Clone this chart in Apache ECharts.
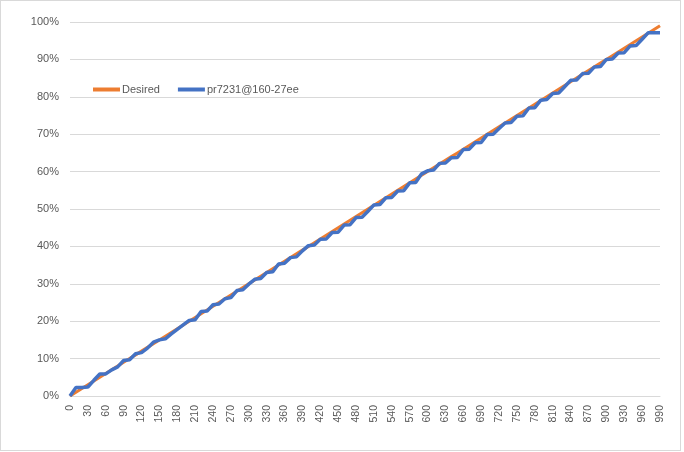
<!DOCTYPE html>
<html><head><meta charset="utf-8">
<script src="https://cdn.jsdelivr.net/npm/echarts@6/dist/echarts.min.js"></script>
<style>
html,body{margin:0;padding:0;background:#fff;}
#c{width:681px;height:451px;border:1px solid #d9d9d9;box-sizing:border-box;}
</style></head>
<body><div id="c"></div>
<script>
const categories = [0,10,20,30,40,50,60,70,80,90,100,110,120,130,140,150,160,170,180,190,
200,210,220,230,240,250,260,270,280,290,300,310,320,330,340,350,360,370,380,390,
400,410,420,430,440,450,460,470,480,490,500,510,520,530,540,550,560,570,580,590,
600,610,620,630,640,650,660,670,680,690,700,710,720,730,740,750,760,770,780,790,
800,810,820,830,840,850,860,870,880,890,900,910,920,930,940,950,960,970,980,990];
const desired = [0,1,2,3,4,5,6,7,8,9,10,11,12,13,14,15,16,17,18,19,
20,21,22,23,24,25,26,27,28,29,30,31,32,33,34,35,36,37,38,39,
40,41,42,43,44,45,46,47,48,49,50,51,52,53,54,55,56,57,58,59,
60,61,62,63,64,65,66,67,68,69,70,71,72,73,74,75,76,77,78,79,
80,81,82,83,84,85,86,87,88,89,90,91,92,93,94,95,96,97,98,99];
const actual = [0,2.3,2.3,2.4,4.2,5.9,5.9,7.0,7.8,9.5,9.7,11.3,11.6,12.8,14.4,15.0,15.3,16.6,17.8,19.0,
20.2,20.4,22.6,22.7,24.4,24.6,26.0,26.3,28.2,28.4,29.9,31.2,31.4,33.0,33.2,35.3,35.5,37.0,37.2,38.8,
40.2,40.4,41.9,42.0,43.7,43.8,45.7,45.8,47.7,47.8,49.4,51.1,51.2,53.0,53.1,54.8,54.9,57.0,57.1,59.4,
60.2,60.4,62.2,62.3,63.7,63.8,65.9,66.0,67.7,67.8,69.9,70.0,71.5,73.0,73.1,74.8,74.9,77.0,77.1,79.1,
79.3,80.9,81.0,82.7,84.4,84.5,86.2,86.3,88.0,88.1,90.0,90.1,91.7,91.8,93.6,93.7,95.4,97.1,97.1,97.1];
const seriesNames = ['Desired','pr7231@160-27ee'];

const chart = echarts.init(document.getElementById('c'));
const txt = '#595959';
const font = 'Liberation Sans, Arial, sans-serif';
chart.setOption({
  animation:false,
  backgroundColor:'#fff',
  textStyle:{fontFamily:font},
  grid:{left:69,right:20,top:21,bottom:54,containLabel:false},
  legend:{
    left:87, top:78, itemGap:18, itemWidth:27, itemHeight:4,
    icon:'rect',
    textStyle:{color:txt,fontSize:11,fontFamily:font,padding:[0,0,0,-3]},
    data:seriesNames
  },
  xAxis:{
    type:'category', data:categories, boundaryGap:false,
    axisLine:{lineStyle:{color:'#d9d9d9'}},
    axisTick:{show:false},
    axisLabel:{color:txt,fontSize:10.5,fontFamily:font,rotate:90,interval:2,margin:9}
  },
  yAxis:{
    type:'value', min:0, max:100, interval:10,
    axisLine:{show:false}, axisTick:{show:false},
    splitLine:{lineStyle:{color:'#d9d9d9',width:1}},
    axisLabel:{color:txt,fontSize:11,fontFamily:font,formatter:'{value}%',margin:11}
  },
  series:[
    {name:seriesNames[0],type:'line',data:desired,symbol:'none',
     lineStyle:{color:'#ED7D31',width:3},itemStyle:{color:'#ED7D31'},z:2},
    {name:seriesNames[1],type:'line',data:actual,symbol:'none',
     lineStyle:{color:'#4472C4',width:3.5},itemStyle:{color:'#4472C4'},z:3}
  ]
});
</script></body></html>
